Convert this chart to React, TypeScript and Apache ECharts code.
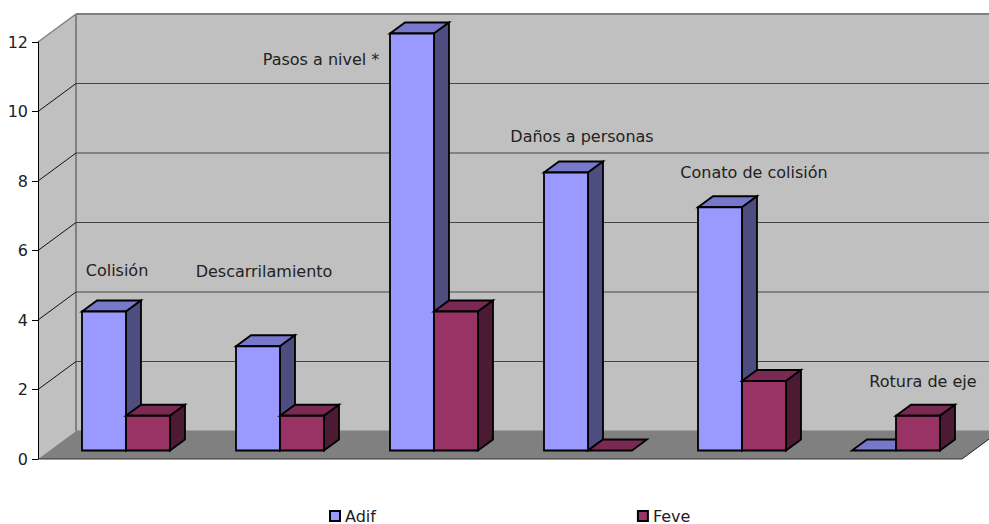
import React, { useEffect, useRef } from "react";
import * as echarts from "echarts";

const categories = ["Colisión", "Descarrilamiento", "Pasos a nivel *", "Daños a personas", "Conato de colisión", "Rotura de eje"];
const adif = [4, 3, 12, 8, 7, 0];
const feve = [1, 1, 4, 0, 2, 1];
const yTicks = [0, 2, 4, 6, 8, 10, 12];

const FONT = "'DejaVu Sans', sans-serif";
const WALL_DX = 38, WALL_DY = -28;
const BAR_W = 44, BASE_DX = 11, BASE_DY = -8.5, DEPTH_DX = 15, DEPTH_DY = -11;
const labelOffsets = [[2, -50], [-5, -83], [-102, 17], [5, -45], [23, -43], [38, -43]];

const barRender = (slot: number, front: string, top: string, side: string) => (_p: any, api: any) => {
  const i = api.value(0);
  const v = api.value(1);
  const [cx, yTop0] = api.coord([i, v]);
  const [, y0] = api.coord([i, 0]);
  const x0 = cx + BASE_DX + (slot - 1) * BAR_W;
  const x1 = x0 + BAR_W;
  const yt = yTop0 + BASE_DY;
  const yb = y0 + BASE_DY;
  const line = { stroke: "#000", lineWidth: 1.8, lineJoin: "miter" };
  return {
    type: "group",
    children: [
      { type: "polygon", shape: { points: [[x0, yt], [x0 + DEPTH_DX, yt + DEPTH_DY], [x1 + DEPTH_DX, yt + DEPTH_DY], [x1, yt]] }, style: { fill: top, ...line } },
      ...(v > 0
        ? [
            { type: "polygon", shape: { points: [[x1, yt], [x1 + DEPTH_DX, yt + DEPTH_DY], [x1 + DEPTH_DX, yb + DEPTH_DY], [x1, yb]] }, style: { fill: side, ...line } },
            { type: "polygon", shape: { points: [[x0, yt], [x1, yt], [x1, yb], [x0, yb]] }, style: { fill: front, ...line } },
          ]
        : []),
    ],
  };
};

export default function App() {
  const ref = useRef<HTMLDivElement>(null);
  useEffect(() => {
    const chart = echarts.init(ref.current!, undefined, { renderer: "svg" });
    chart.setOption({
      animation: false,
      backgroundColor: "#fff",
      textStyle: { fontFamily: FONT },
      grid: { left: 38, right: 27, top: 42, bottom: 65, containLabel: false },
      legend: {
        data: ["Adif", "Feve"],
        left: 324,
        top: 503,
        itemWidth: 10,
        itemHeight: 10,
        itemGap: 261,
        icon: "rect",
        textStyle: { fontFamily: FONT, fontSize: 16, color: "#222" },
      },
      xAxis: { type: "category", data: categories, show: false, boundaryGap: true },
      yAxis: {
        type: "value",
        min: 0,
        max: 12,
        interval: 2,
        z: 5,
        axisLine: { show: true, lineStyle: { color: "#000", width: 1 } },
        axisTick: { show: true, length: 6, lineStyle: { color: "#000", width: 1 } },
        axisLabel: { fontFamily: FONT, fontSize: 16, color: "#222", margin: 10 },
        splitLine: { show: false },
      },
      series: [
        {
          type: "custom",
          silent: true,
          z: 1,
          data: [[0, 0]],
          encode: { x: 0, y: 1 },
          renderItem: (p: any) => {
            const { x, y, width, height } = p.coordSys;
            const b = y + height;
            const r = x + width;
            return {
              type: "group",
              children: [
                { type: "polygon", shape: { points: [[x, b], [x + WALL_DX, b + WALL_DY], [x + WALL_DX, y + WALL_DY], [x, y]] }, style: { fill: "#C0C0C0" } },
                { type: "rect", shape: { x: x + WALL_DX, y: y + WALL_DY, width, height }, style: { fill: "#C0C0C0" } },
                { type: "polygon", shape: { points: [[x, b], [x + WALL_DX, b + WALL_DY], [r + WALL_DX, b + WALL_DY], [r, b]] }, style: { fill: "#808080" } },
                { type: "line", shape: { x1: x, y1: b, x2: r, y2: b }, style: { stroke: "#333", lineWidth: 1 } },
                { type: "line", shape: { x1: r, y1: b, x2: r + WALL_DX, y2: b + WALL_DY }, style: { stroke: "#222", lineWidth: 1 } },
                { type: "line", shape: { x1: x + WALL_DX, y1: y + WALL_DY, x2: x + WALL_DX, y2: b + WALL_DY }, style: { stroke: "#808080", lineWidth: 2 } },
              ],
            };
          },
        },
        {
          type: "custom",
          silent: true,
          z: 2,
          data: yTicks.map((t) => [0, t]),
          encode: { x: 0, y: 1 },
          renderItem: (p: any, api: any) => {
            const t = api.value(1);
            const [, yy] = api.coord([0, t]);
            const { x, width } = p.coordSys;
            const isTop = t === yTicks[yTicks.length - 1];
            const children: any[] = [
              { type: "line", shape: { x1: x + WALL_DX, y1: yy + WALL_DY, x2: x + width + WALL_DX, y2: yy + WALL_DY }, style: { stroke: isTop ? "#808080" : t === 0 ? "#808080" : "#444", lineWidth: isTop ? 2 : 1 } },
            ];
            if (t > 0) {
              children.push({ type: "line", shape: { x1: x, y1: yy, x2: x + WALL_DX, y2: yy + WALL_DY }, style: { stroke: isTop ? "#808080" : "#111", lineWidth: isTop ? 1.5 : 1 } });
            }
            return { type: "group", children };
          },
        },
        {
          name: "Adif",
          type: "custom",
          z: 3,
          itemStyle: { color: "#9999FF", borderColor: "#000", borderWidth: 1.5 },
          data: adif.map((v, i) => [i, v]),
          encode: { x: 0, y: 1 },
          renderItem: barRender(0, "#9999FF", "#7777CC", "#4D4D80"),
        },
        {
          name: "Feve",
          type: "custom",
          z: 4,
          itemStyle: { color: "#993366", borderColor: "#000", borderWidth: 1.5 },
          data: feve.map((v, i) => [i, v]),
          encode: { x: 0, y: 1 },
          renderItem: barRender(1, "#993366", "#7A2952", "#4D1A33"),
        },
        {
          type: "custom",
          silent: true,
          z: 6,
          data: categories.map((_, i) => [i, Math.max(adif[i], feve[i])]),
          encode: { x: 0, y: 1 },
          renderItem: (_p: any, api: any) => {
            const i = api.value(0);
            const [cx, cy] = api.coord([i, api.value(1)]);
            return {
              type: "text",
              x: cx + labelOffsets[i][0],
              y: cy + labelOffsets[i][1],
              style: { text: categories[i], fontFamily: FONT, fontSize: 16, fill: "#222", align: "center", verticalAlign: "middle" },
            };
          },
        },
      ],
    });
    return () => chart.dispose();
  }, []);
  return <div ref={ref} style={{ position: "absolute", left: 0, top: 0, width: 989, height: 524, overflow: "hidden" }} />;
}
